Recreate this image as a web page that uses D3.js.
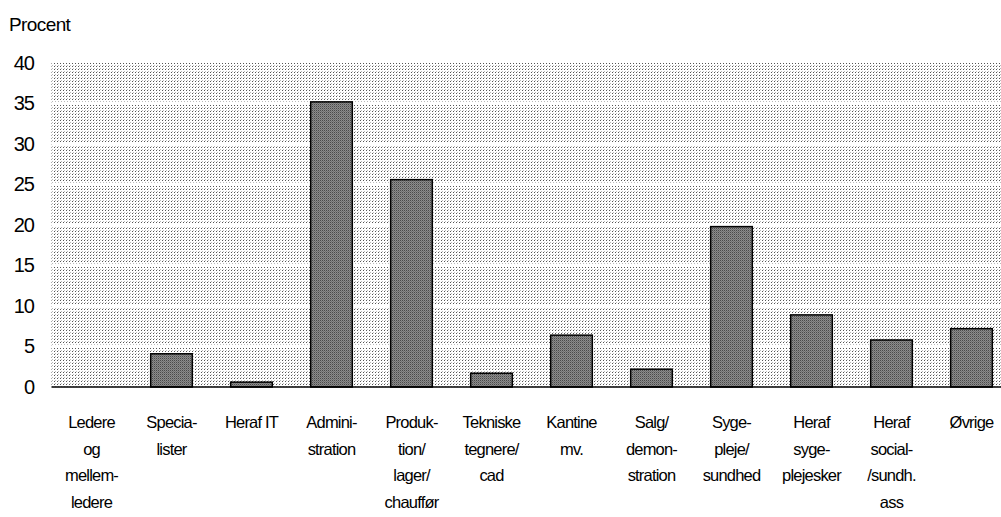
<!DOCTYPE html>
<html><head><meta charset="utf-8">
<script src="https://cdn.jsdelivr.net/npm/d3@7"></script>
<style>
html,body{margin:0;padding:0;background:#fff;}
svg{display:block;}
text{font-family:"Liberation Sans",Arial,sans-serif;fill:#000;}
</style></head>
<body>
<svg id="chart" width="1001" height="517"></svg>
<script>
const categories = [
  ["Ledere","og","mellem-","ledere"],
  ["Specia-","lister"],
  ["Heraf IT"],
  ["Admini-","stration"],
  ["Produk-","tion/","lager/","chauffør"],
  ["Tekniske","tegnere/","cad"],
  ["Kantine","mv."],
  ["Salg/","demon-","stration"],
  ["Syge-","pleje/","sundhed"],
  ["Heraf","syge-","plejesker"],
  ["Heraf","social-","/sundh.","ass"],
  ["Øvrige"]
];
const values = [0, 4.1, 0.6, 35.2, 25.6, 1.7, 6.4, 2.2, 19.8, 8.9, 5.8, 7.2];
const yTicks = [0, 5, 10, 15, 20, 25, 30, 35, 40];
const yTitle = "Procent";

(function () {
const svg = d3.select("#chart");
const pLeft = 51.5, pRight = 1011.5, pTop = 63, pBottom = 387;

const defs = svg.append("defs");
const bg = defs.append("pattern").attr("id","dots").attr("patternUnits","userSpaceOnUse")
  .attr("width",3).attr("height",3);
bg.append("rect").attr("width",3).attr("height",3).attr("fill","#fff");
bg.append("rect").attr("x",0).attr("y",0).attr("width",1).attr("height",1).attr("fill","#555");
bg.append("rect").attr("x",1).attr("y",2).attr("width",1).attr("height",1).attr("fill","#bbb");

const bp = defs.append("pattern").attr("id","barfill").attr("patternUnits","userSpaceOnUse")
  .attr("width",2).attr("height",2);
bp.append("rect").attr("width",2).attr("height",2).attr("fill","#8c8c8c");
bp.append("rect").attr("x",0).attr("y",0).attr("width",1).attr("height",1).attr("fill","#4a4a4a");
bp.append("rect").attr("x",1).attr("y",1).attr("width",1).attr("height",1).attr("fill","#707070");

const x = d3.scaleBand().domain(d3.range(categories.length)).range([pLeft, pRight])
  .paddingInner(0.48).paddingOuter(0.24);
const y = d3.scaleLinear().domain([0, 40]).range([pBottom, pTop]);

svg.append("rect").attr("x", pLeft).attr("y", pTop).attr("width", 1001 - pLeft).attr("height", pBottom - pTop)
  .attr("fill", "url(#dots)");

svg.append("g").selectAll("line").data(yTicks.filter(d => d > 0 && d < 40)).join("line")
  .attr("x1", pLeft).attr("x2", 1001)
  .attr("y1", d => y(d)).attr("y2", d => y(d))
  .attr("stroke", "#fff").attr("stroke-width", 3);

svg.append("g").selectAll("rect").data(values).join("rect")
  .attr("x", (d, i) => x(i)).attr("width", x.bandwidth())
  .attr("y", d => y(d)).attr("height", d => y(0) - y(d))
  .attr("fill", "url(#barfill)")
  .attr("stroke", d => d > 0 ? "#000" : "none").attr("stroke-width", 1.5);

svg.append("line").attr("x1", pLeft).attr("x2", 1001).attr("y1", pBottom).attr("y2", pBottom)
  .attr("stroke", "#000").attr("stroke-width", 1.5);

const yAxis = d3.axisLeft(y).tickValues(yTicks).tickSize(0).tickPadding(0);
const yg = svg.append("g").attr("transform", "translate(34,0)").call(yAxis);
yg.select(".domain").remove();
yg.selectAll("text").style("font-family", '"Liberation Sans",Arial,sans-serif')
  .attr("font-size", 20).attr("fill", "#000").attr("letter-spacing", "-1px");

svg.append("text").attr("x", 9).attr("y", 31).attr("font-size", 19)
  .attr("letter-spacing", "-0.6px").text(yTitle);

const xl = svg.append("g");
categories.forEach((lines, i) => {
  const t = xl.append("text").attr("text-anchor", "middle").attr("font-size", 16.5)
    .attr("letter-spacing", "-0.8px")
    .attr("transform", `translate(${x(i) + x.bandwidth() / 2},${428})`);
  lines.forEach((l, k) => t.append("tspan").attr("x", 0).attr("y", k * 26.7).text(l));
});
})();
</script>
</body></html>
